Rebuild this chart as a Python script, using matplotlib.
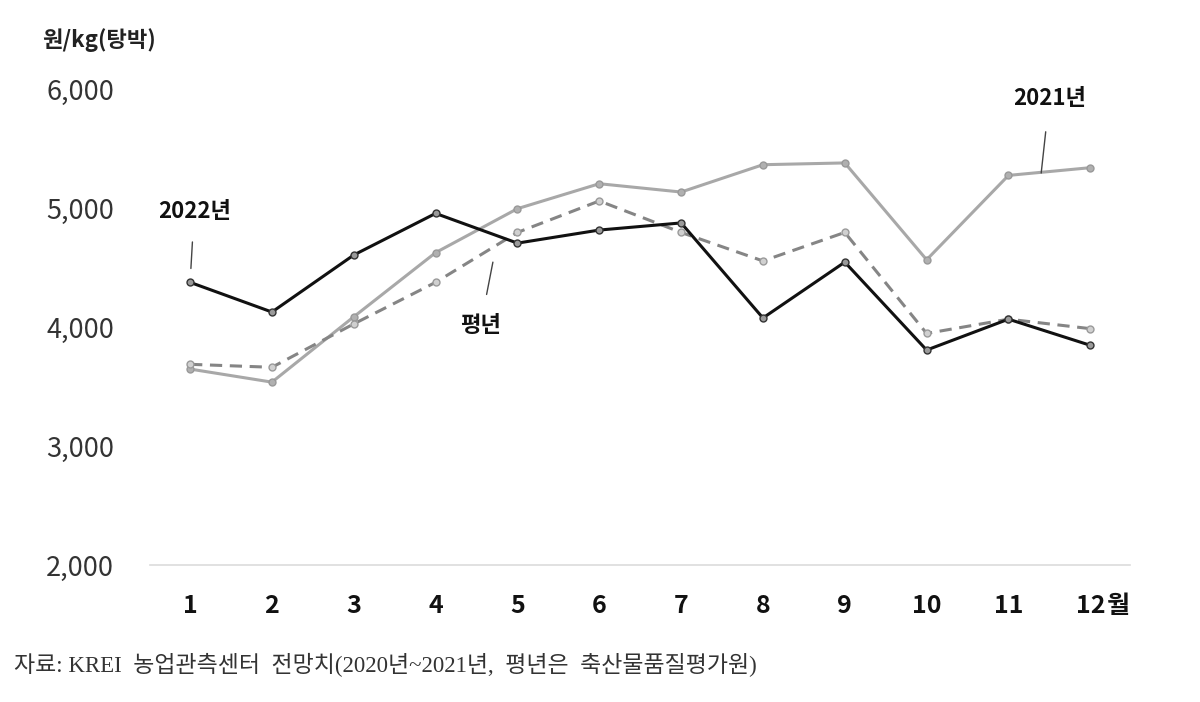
import matplotlib.pyplot as plt
import numpy as np

plt.rcParams["font.family"] = ["Noto Sans CJK KR", "DejaVu Sans"]

months = np.arange(1, 13)
month_labels = [str(m) for m in months]
price_2022 = [4380, 4130, 4610, 4960, 4710, 4820, 4880, 4080, 4550, 3810, 4070, 3850]
price_2021 = [3650, 3540, 4090, 4630, 5000, 5210, 5140, 5370, 5385, 4570, 5280, 5345]
price_avg = [3690, 3665, 4030, 4380, 4800, 5065, 4800, 4560, 4800, 3950, 4070, 3990]
yticks = [2000, 3000, 4000, 5000, 6000]

fig = plt.figure(figsize=(12, 7.02), dpi=100)
ax = fig.add_axes([0.125, 0.195, 0.817, 0.677])

ax.plot(months, price_2021, color="#a8a8a8", lw=2.2, marker="o", ms=5,
        mfc="#b0b0b0", mec="#999999", zorder=2)
ax.plot(months, price_avg, color="#858585", lw=2.2, ls=(0, (4, 2.5)), marker="o", ms=5,
        mfc="#d0d0d0", mec="#9a9a9a", zorder=3)
ax.plot(months, price_2022, color="#111111", lw=2.2, marker="o", ms=5,
        mfc="#9a9a9a", mec="#333333", zorder=4)

xpad = 21
ax.set_xlim(0.51, 12.49)
ax.set_ylim(2000, 6000)
ax.set_xticks(months)
ax.set_xticklabels(month_labels, fontsize=18, fontweight="bold", color="#111111")
ax.set_yticks(yticks)
ax.set_yticklabels([f"{v:,}" for v in yticks], fontsize=19.5, color="#333333")
ax.tick_params(axis="x", length=0, pad=xpad)
ax.tick_params(axis="y", length=0, pad=26)
for s in ["top", "right", "left"]:
    ax.spines[s].set_visible(False)
ax.spines["bottom"].set_color("#dcdcdc")
ax.spines["bottom"].set_linewidth(1.2)

# unit label and month suffix
fig.text(0.035, 0.943, "원/kg(탕박)", fontsize=16, fontweight="bold", color="#222222",
         va="center", ha="left")
ax.annotate("월", xy=(12, 2000), xytext=(12, -xpad), textcoords="offset points",
            fontsize=18, fontweight="bold", color="#111111", ha="left", va="top")

# series labels with leader lines
ax.annotate("2022년", xy=(1, price_2022[0]), xytext=(1.05, 4980),
            fontsize=16, fontweight="bold", color="#111111", ha="center", va="center",
            arrowprops=dict(arrowstyle="-", color="#444444", lw=1, shrinkA=12, shrinkB=10))
ax.annotate("평년", xy=(4.7, 4550), xytext=(4.55, 4020),
            fontsize=16, fontweight="bold", color="#111111", ha="center", va="center",
            arrowprops=dict(arrowstyle="-", color="#444444", lw=1, shrinkA=12, shrinkB=0))
ax.annotate("2021년", xy=(11.4, 5300), xytext=(11.5, 5930),
            fontsize=16, fontweight="bold", color="#111111", ha="center", va="center",
            arrowprops=dict(arrowstyle="-", color="#444444", lw=1, shrinkA=14, shrinkB=0))

fig.text(0.012, 0.053, "자료: KREI  농업관측센터  전망치(2020년~2021년,  평년은  축산물품질평가원)",
         fontsize=16.5, color="#333333", ha="left", va="center",
         family=["Liberation Serif", "Noto Sans CJK KR"])

fig.savefig("out.png", dpi=100)
